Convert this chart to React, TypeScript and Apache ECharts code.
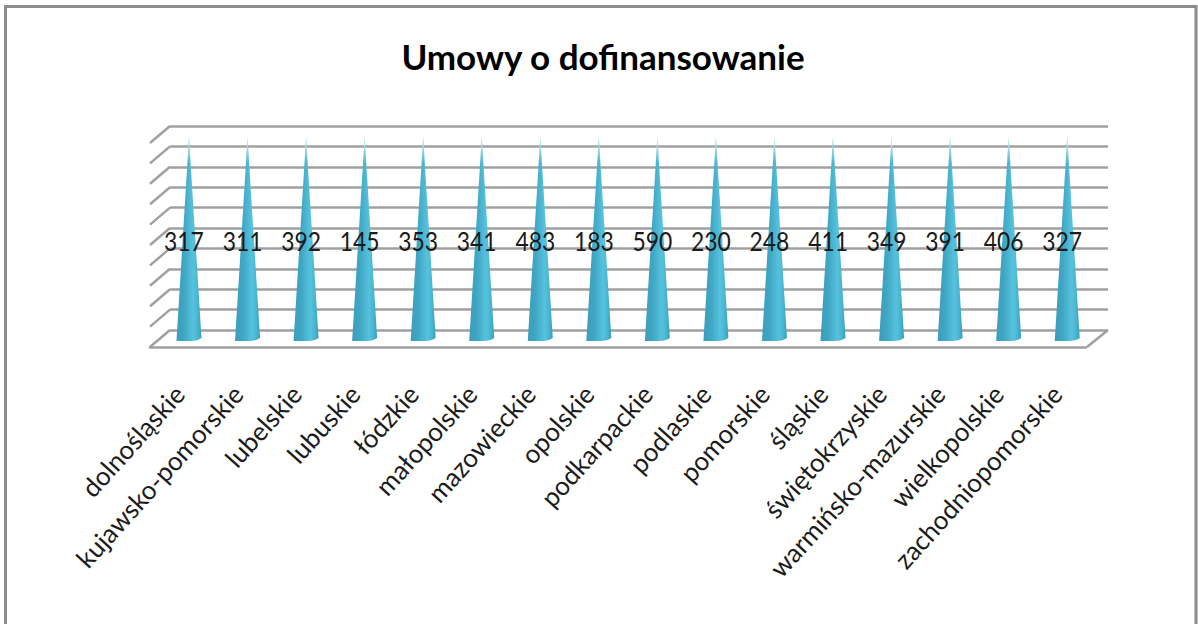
import React, { useEffect, useRef } from "react";
import * as echarts from "echarts";

const titleText = "Umowy o dofinansowanie";
const categories = [
  "dolnośląskie", "kujawsko-pomorskie", "lubelskie", "lubuskie", "łódzkie", "małopolskie",
  "mazowieckie", "opolskie", "podkarpackie", "podlaskie", "pomorskie", "śląskie",
  "świętokrzyskie", "warmińsko-mazurskie", "wielkopolskie", "zachodniopomorskie",
];
const labelValues = [317, 311, 392, 145, 353, 341, 483, 183, 590, 230, 248, 411, 349, 391, 406, 327];
const coneHeights = [100, 100, 100, 100, 100, 100, 100, 100, 100, 100, 100, 100, 100, 100, 100, 100];
const wallTicks = [0, 10, 20, 30, 40, 50, 60, 70, 80, 90, 100];

const FONT = "Lato";
const GRID_COLOR = "#a0a0a0";
const DEPTH_X = 20;
const DEPTH_Y = 17;

export default function App() {
  const ref = useRef<HTMLDivElement>(null);
  useEffect(() => {
    const chart = echarts.init(ref.current!, null, { renderer: "svg" });
    const coneFill = new echarts.graphic.LinearGradient(0, 0, 1, 0, [
      { offset: 0, color: "#3c9dbb" },
      { offset: 0.3, color: "#3fa6c4" },
      { offset: 0.68, color: "#56c3de" },
      { offset: 0.85, color: "#4ab4d1" },
      { offset: 1, color: "#3b9cb9" },
    ]);
    const tipFill = new echarts.graphic.LinearGradient(0, 0, 0, 1, [
      { offset: 0, color: "rgba(255,255,255,0.85)" },
      { offset: 1, color: "rgba(255,255,255,0)" },
    ]);
    const hiddenX = { type: "category" as const, data: categories, show: false };
    chart.setOption({
      animation: false,
      backgroundColor: "#ffffff",
      title: {
        text: titleText,
        left: 598,
        top: 33,
        textAlign: "center",
        textStyle: { fontFamily: FONT, fontWeight: "bold", fontSize: 35, color: "#000000" },
      },
      graphic: [
        {
          type: "rect",
          shape: { x: 5.5, y: 6.5, width: 1190.5, height: 700 },
          style: { fill: "none", stroke: "#8c8c8c", lineWidth: 3 },
          silent: true,
        },
      ],
      grid: [
        { left: 170, width: 938, top: 126, height: 204 },
        { left: 150, width: 936, top: 143, height: 204 },
        { left: 159.7, width: 936.8, top: 137, height: 204 },
      ],
      xAxis: [
        { ...hiddenX, gridIndex: 0 },
        {
          type: "category",
          gridIndex: 1,
          data: categories,
          axisLine: { lineStyle: { color: GRID_COLOR, width: 2.5 } },
          axisTick: { alignWithLabel: false, length: 8, lineStyle: { color: GRID_COLOR, width: 2.5 } },
          axisLabel: {
            interval: 0,
            rotate: 48,
            margin: 42,
            fontFamily: FONT,
            fontSize: 26,
            color: "#1c1c1c",
          },
        },
        { ...hiddenX, gridIndex: 2 },
      ],
      yAxis: [
        {
          type: "value",
          gridIndex: 0,
          min: 0,
          max: 100,
          interval: 10,
          axisLabel: { show: false },
          axisLine: { show: false },
          axisTick: { show: false },
          splitLine: { show: true, lineStyle: { color: GRID_COLOR, width: 2.5 } },
        },
        { type: "value", gridIndex: 1, min: 0, max: 100, show: false },
        { type: "value", gridIndex: 2, min: 0, max: 100, show: false },
      ],
      series: [
        {
          type: "custom",
          name: "walls",
          xAxisIndex: 0,
          yAxisIndex: 0,
          silent: true,
          clip: false,
          encode: { x: 0, y: 1 },
          data: wallTicks.map((v) => [0, v]),
          renderItem: (params: any, api: any) => {
            const v = api.value(1);
            const y = api.coord([0, v])[1];
            const left = params.coordSys.x;
            const right = left + params.coordSys.width;
            const lineStyle = { stroke: GRID_COLOR, lineWidth: 2.5, fill: "none" };
            const children: any[] = [
              {
                type: "line",
                shape: { x1: left, y1: y, x2: left - DEPTH_X, y2: y + DEPTH_Y },
                style: lineStyle,
              },
            ];
            if (v === 0) {
              children.push({
                type: "line",
                shape: { x1: right, y1: y, x2: right - DEPTH_X - 1, y2: y + DEPTH_Y },
                style: lineStyle,
              });
            }
            return { type: "group", children };
          },
        },
        {
          type: "custom",
          name: "Umowy o dofinansowanie",
          xAxisIndex: 2,
          yAxisIndex: 2,
          clip: false,
          encode: { x: 0, y: 1 },
          data: coneHeights.map((h, i) => [i, h, labelValues[i]]),
          renderItem: (_params: any, api: any) => {
            const idx = api.value(0);
            const top = api.coord([idx, api.value(1)]);
            const base = api.coord([idx, 0]);
            const cx = base[0];
            const halfW = 12.5;
            const h = base[1] - top[1];
            const tipLen = 26;
            const tipHalf = (halfW * tipLen) / h;
            const d =
              `M ${cx} ${top[1]} L ${cx + halfW} ${base[1] - 3} ` +
              `Q ${cx + 8} ${base[1] + 0.5} ${cx} ${base[1]} ` +
              `L ${cx - halfW} ${base[1]} Z`;
            return {
              type: "group",
              children: [
                { type: "path", shape: { pathData: d }, style: { fill: coneFill } },
                {
                  type: "polygon",
                  shape: {
                    points: [
                      [cx, top[1]],
                      [cx + tipHalf, top[1] + tipLen],
                      [cx - tipHalf, top[1] + tipLen],
                    ],
                  },
                  style: { fill: tipFill },
                },
                {
                  type: "text",
                  x: cx - 5,
                  y: api.coord([idx, 49])[1],
                  scaleX: 0.88,
                  style: {
                    text: String(api.value(2)),
                    x: 0,
                    y: 0,
                    align: "center",
                    verticalAlign: "middle",
                    fontFamily: FONT,
                    fontSize: 26,
                    fill: "#1a1a1a",
                  },
                },
              ],
            };
          },
        },
      ],
    });
    return () => chart.dispose();
  }, []);
  return (
    <div
      ref={ref}
      style={{ position: "absolute", left: 0, top: 0, width: 1198, height: 624, background: "#fff" }}
    />
  );
}
